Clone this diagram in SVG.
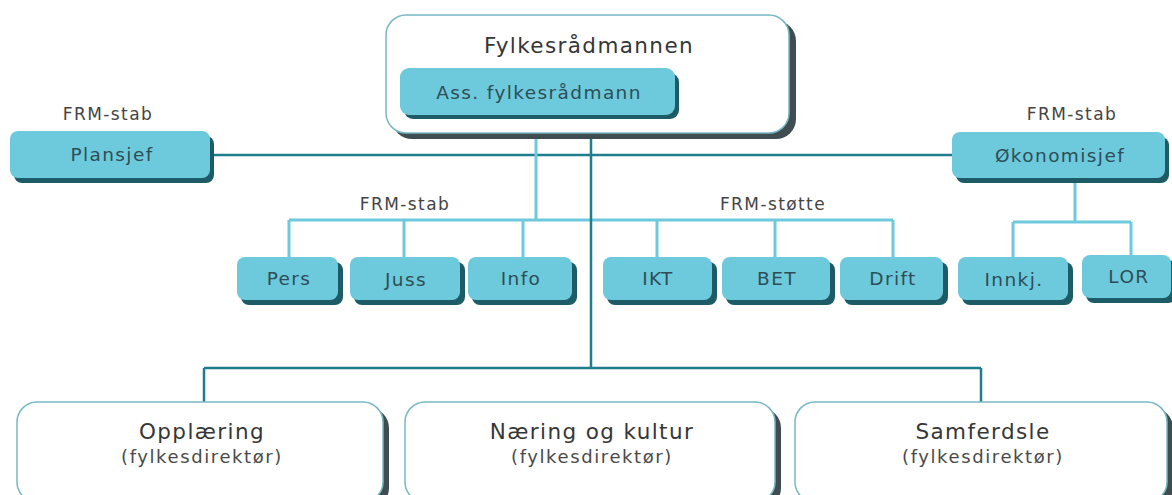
<svg xmlns="http://www.w3.org/2000/svg" width="1172" height="495" viewBox="0 0 1172 495">
<style>
text{font-family:"DejaVu Sans","Liberation Sans",sans-serif;text-anchor:middle}
.big{font-size:21.5px;letter-spacing:1.4px;fill:#363636}
.sub{font-size:18px;letter-spacing:1.6px;fill:#4a4a4a}
.lbl{font-size:18.5px;letter-spacing:1.4px;fill:#2e4e55}
.cap{font-size:17px;letter-spacing:1.4px;fill:#444}
.tf{fill:#6dc9dc}
.ts{fill:#1d5c67}
.wf{fill:#fff;stroke:#78b8c4;stroke-width:1.5}
.ws{fill:#3f4d51}
.dk{stroke:#1f7d8e;stroke-width:2.5;fill:none}
.lt{stroke:#6dc9dc;stroke-width:3;fill:none}
</style>
<rect width="1172" height="495" fill="#fff"/>
<g id="connectors">
<path class="dk" d="M213 155H952"/>
<path class="lt" d="M536 118V220M289 220H893M289 220V258M404 220V258M523 220V258M657 220V258M775 220V258M893 220V258"/>
<path class="lt" d="M1075 180V222M1013 222H1131M1013 222V258M1131 222V256"/>
<path class="dk" d="M591 134V368M204 368H981M204 368V402M981 368V402"/>
</g>
<g id="top">
<rect x="392" y="21" width="404" height="118" rx="20" class="ws"/>
<rect x="386" y="15" width="403" height="118" rx="20" class="wf"/>
<text x="589" y="53" class="big">Fylkesrådmannen</text>
</g>
<g id="ass">
<rect x="404" y="73" width="275" height="46" rx="9" class="ts"/>
<rect x="400" y="68" width="275" height="47" rx="9" class="tf"/>
<text x="539" y="99" class="lbl">Ass. fylkesrådmann</text>
</g>
<g id="plansjef">
<text x="108" y="120" class="cap">FRM-stab</text>
<rect x="14" y="136" width="200" height="47" rx="8" class="ts"/>
<rect x="10" y="131" width="200" height="47" rx="8" class="tf"/>
<text x="112" y="161" class="lbl">Plansjef</text>
</g>
<g id="okonomisjef">
<text x="1072" y="120" class="cap">FRM-stab</text>
<rect x="956" y="137" width="213" height="46" rx="8" class="ts"/>
<rect x="952" y="132" width="213" height="46" rx="8" class="tf"/>
<text x="1060" y="162" class="lbl">Økonomisjef</text>
</g>
<g id="frm-stab-label"><text x="405" y="210" class="cap">FRM-stab</text></g>
<g id="frm-stotte-label"><text x="773" y="210" class="cap">FRM-støtte</text></g>
<g id="pers">
<rect x="241" y="262" width="102" height="43" rx="8" class="ts"/>
<rect x="237" y="257" width="101" height="43" rx="8" class="tf"/>
<text x="289" y="285" class="lbl">Pers</text>
</g>
<g id="juss">
<rect x="354" y="262" width="111" height="43" rx="8" class="ts"/>
<rect x="350" y="257" width="110" height="43" rx="8" class="tf"/>
<text x="406" y="286" class="lbl">Juss</text>
</g>
<g id="info">
<rect x="472" y="262" width="105" height="43" rx="8" class="ts"/>
<rect x="468" y="257" width="104" height="43" rx="8" class="tf"/>
<text x="521" y="285" class="lbl">Info</text>
</g>
<g id="ikt">
<rect x="607" y="262" width="110" height="43" rx="8" class="ts"/>
<rect x="603" y="257" width="109" height="43" rx="8" class="tf"/>
<text x="658" y="285" class="lbl">IKT</text>
</g>
<g id="bet">
<rect x="726" y="262" width="109" height="43" rx="8" class="ts"/>
<rect x="722" y="257" width="108" height="43" rx="8" class="tf"/>
<text x="777" y="285" class="lbl">BET</text>
</g>
<g id="drift">
<rect x="844" y="262" width="104" height="43" rx="8" class="ts"/>
<rect x="840" y="257" width="103" height="43" rx="8" class="tf"/>
<text x="893" y="285" class="lbl">Drift</text>
</g>
<g id="innkj">
<rect x="962" y="262" width="111" height="43" rx="8" class="ts"/>
<rect x="958" y="257" width="110" height="43" rx="8" class="tf"/>
<text x="1014" y="286" class="lbl">Innkj.</text>
</g>
<g id="lor">
<rect x="1086" y="260" width="90" height="43" rx="8" class="ts"/>
<rect x="1082" y="255" width="89" height="43" rx="8" class="tf"/>
<text x="1129" y="283" class="lbl">LOR</text>
</g>
<g id="opplaering">
<rect x="23" y="408" width="366" height="100" rx="20" class="ws"/>
<rect x="17" y="402" width="366" height="100" rx="20" class="wf"/>
<text x="202" y="439" class="big">Opplæring</text>
<text x="202" y="463" class="sub">(fylkesdirektør)</text>
</g>
<g id="naering">
<rect x="411" y="408" width="370" height="100" rx="20" class="ws"/>
<rect x="405" y="402" width="370" height="100" rx="20" class="wf"/>
<text x="592" y="439" class="big">Næring og kultur</text>
<text x="592" y="463" class="sub">(fylkesdirektør)</text>
</g>
<g id="samferdsle">
<rect x="801" y="408" width="372" height="100" rx="20" class="ws"/>
<rect x="795" y="402" width="372" height="100" rx="20" class="wf"/>
<text x="983" y="439" class="big">Samferdsle</text>
<text x="983" y="463" class="sub">(fylkesdirektør)</text>
</g>
</svg>
